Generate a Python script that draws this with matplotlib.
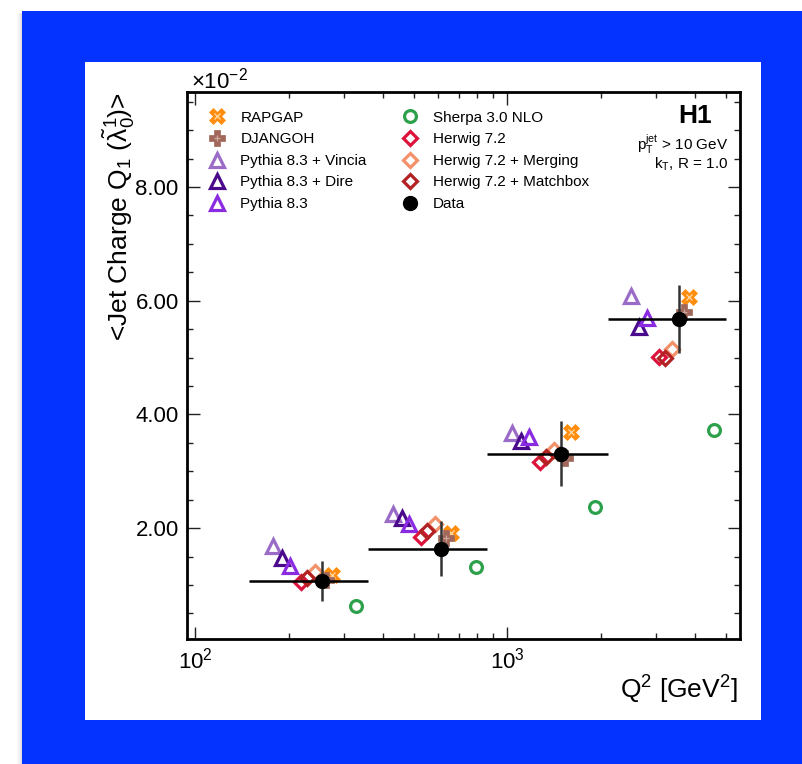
import matplotlib
matplotlib.use('Agg')
import matplotlib.pyplot as plt
import matplotlib.ticker as mticker
from matplotlib.patches import Rectangle
import numpy as np

plt.rcParams['font.family'] = ['Liberation Sans', 'DejaVu Sans']
plt.rcParams['mathtext.fontset'] = 'custom'
plt.rcParams['mathtext.rm'] = 'Liberation Sans'
plt.rcParams['mathtext.it'] = 'Liberation Sans'
plt.rcParams['mathtext.bf'] = 'Liberation Sans:bold'

# Q^2 bins [GeV^2]
q2_center = [254, 613, 1480, 3545]
q2_low = [149, 357, 862, 2097]
q2_high = [357, 862, 2097, 5017]

# <Jet charge Q1> values (units of 1e-2)
data_val = [1.07, 1.64, 3.31, 5.68]
data_err = [0.35, 0.49, 0.57, 0.60]
rapgap = [1.18, 1.92, 3.69, 6.07]
djangoh = [1.09, 1.83, 3.24, 5.80]
pythia_vincia = [1.69, 2.25, 3.67, 6.08]
pythia_dire = [1.48, 2.18, 3.54, 5.54]
pythia = [1.34, 2.08, 3.61, 5.70]
sherpa = [0.63, 1.32, 2.38, 3.73]
herwig = [1.06, 1.85, 3.17, 5.01]
herwig_merging = [1.23, 2.08, 3.38, 5.15]
herwig_matchbox = [1.13, 1.95, 3.25, 4.99]

# (label, values, marker, color, filled, size, log10 x-shift, inner mark)
models = [
    ('RAPGAP', rapgap, 'X', '#ff8c0a', True, 11, 0.033, ('x', '#ffd9a8')),
    ('DJANGOH', djangoh, 'P', '#a0675a', True, 11, 0.015, ('+', '#d0a89e')),
    ('Pythia 8.3 + Vincia', pythia_vincia, '^', '#9a6cc8', False, 10, -0.155, None),
    ('Pythia 8.3 + Dire', pythia_dire, '^', '#4b0a8c', False, 10, -0.127, None),
    ('Pythia 8.3', pythia, '^', '#8a2be2', False, 10, -0.102, None),
    ('Sherpa 3.0 NLO', sherpa, 'o', '#2ca04a', False, 8.5, 0.111, None),
    ('Herwig 7.2', herwig, 'D', '#dc143c', False, 7.5, -0.065, None),
    ('Herwig 7.2 + Merging', herwig_merging, 'D', '#f4906a', False, 7.5, -0.021, None),
    ('Herwig 7.2 + Matchbox', herwig_matchbox, 'D', '#b22222', False, 7.5, -0.046, None),
]

fig = plt.figure(figsize=(8.02, 7.64), dpi=100)
W, H = 802, 764

def px_rect(x0, y0, x1, y1, color, z=-10, alpha=1.0):
    fig.patches.append(Rectangle((x0 / W, 1 - y1 / H), (x1 - x0) / W, (y1 - y0) / H,
                                 transform=fig.transFigure, color=color, zorder=z,
                                 alpha=alpha, lw=0))

# background: shadow, blue frame, white panel
for i, a in enumerate([0.04, 0.08, 0.12, 0.18, 0.25]):
    px_rect(17 + i, 13, 18 + i, 764, '#808080', z=-11, alpha=a)
px_rect(22, 11, 802, 764, '#0433ff')
px_rect(85, 62, 761, 720, 'white', z=-9)

ax = fig.add_axes([187 / W, 1 - 639 / H, (740 - 187) / W, (639 - 92) / H])
ax.set_facecolor('white')

handles = {}
for label, vals, mk, col, filled, ms, shift, inner in models:
    xs = np.array(q2_center) * 10 ** shift
    ys = np.array(vals) * 1e-2
    if filled:
        h, = ax.plot(xs, ys, ls='none', marker=mk, ms=ms, color=col, mec=col, mew=0.5)
    else:
        h, = ax.plot(xs, ys, ls='none', marker=mk, ms=ms, mfc='none', mec=col, mew=2.3)
    if inner is not None:
        hi, = ax.plot(xs, ys, ls='none', marker=inner[0], ms=5, color=inner[1], mew=0.9)
        h = (h, hi)
    handles[label] = h

# data with error bars
xc = np.array(q2_center)
yd = np.array(data_val) * 1e-2
ax.errorbar(xc, yd, yerr=np.array(data_err) * 1e-2, fmt='none', ecolor='#333333',
            elinewidth=1.8, capsize=0, zorder=5)
ax.hlines(yd, q2_low, q2_high, colors='black', lw=1.8, zorder=5)
hd, = ax.plot(xc, yd, ls='none', marker='o', ms=10, color='black', zorder=6)
handles['Data'] = hd

ax.set_xscale('log')
ax.set_xlim(94, 5560)
ax.set_ylim(0.0005, 0.0967)

ax.xaxis.set_major_locator(mticker.LogLocator(base=10, numticks=10))
ax.xaxis.set_minor_locator(mticker.LogLocator(base=10, subs=np.arange(2, 10), numticks=10))
ax.xaxis.set_minor_formatter(mticker.NullFormatter())
ax.yaxis.set_major_locator(mticker.MultipleLocator(0.02))
ax.yaxis.set_minor_locator(mticker.MultipleLocator(0.005))
ax.yaxis.set_major_formatter(mticker.FuncFormatter(lambda v, p: f'{v * 100:.2f}'))

ax.tick_params(which='both', direction='in', top=True, right=True, width=1.0, color='#222222')
ax.tick_params(which='major', length=9, labelsize=16, pad=6)
ax.tick_params(which='minor', length=4.5)
for sp in ax.spines.values():
    sp.set_linewidth(2.0)

fig.text(191 / W, 1 - 88 / H, r'$\times10^{-2}$', fontsize=16, ha='left', va='baseline')

fig.text(119 / W, 1 - 92 / H, r'<Jet Charge Q$_1$ ($\tilde{\lambda}_0^1$)>',
         rotation=90, ha='center', va='top', fontsize=19)
fig.text(738 / W, 1 - 690 / H, r'Q$^2$ [GeV$^2$]', ha='right', va='center', fontsize=19)

order = ['RAPGAP', 'DJANGOH', 'Pythia 8.3 + Vincia', 'Pythia 8.3 + Dire', 'Pythia 8.3',
         'Sherpa 3.0 NLO', 'Herwig 7.2', 'Herwig 7.2 + Merging', 'Herwig 7.2 + Matchbox', 'Data']
ax.legend([handles[k] for k in order], order, ncol=2, frameon=False, fontsize=11,
          loc='upper left', bbox_to_anchor=(0.0205, 0.98), borderpad=0,
          handlelength=1.5, handletextpad=0.75, columnspacing=2.1, labelspacing=0.5)

ax.text(0.95, 0.978, 'H1', transform=ax.transAxes, ha='right', va='top',
        fontsize=19, fontweight='bold')
ax.text(0.978, 0.905, r'p$_{\mathrm{T}}^{\mathrm{jet}}$ > 10 GeV', transform=ax.transAxes,
        ha='right', va='center', fontsize=11)
ax.text(0.978, 0.868, r'k$_{\mathrm{T}}$, R = 1.0', transform=ax.transAxes,
        ha='right', va='center', fontsize=11)

fig.savefig('out.png', dpi=100)
